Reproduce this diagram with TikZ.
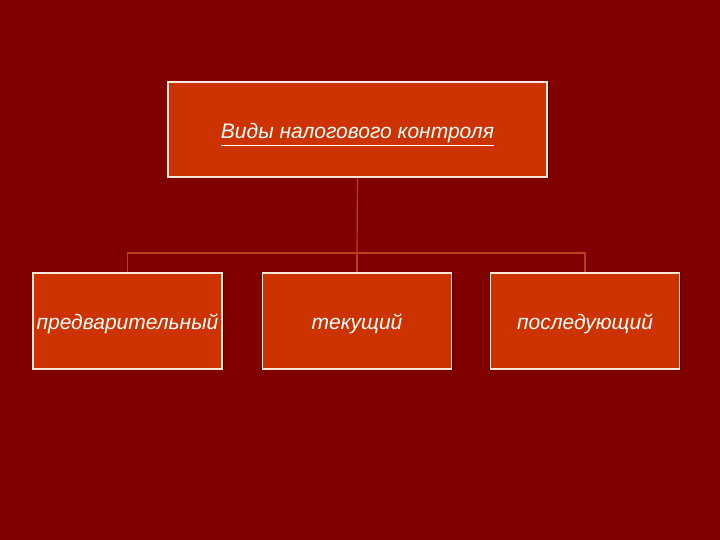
\documentclass[tikz,border=0pt]{standalone}
\usepackage{fontspec}
\setmainfont{Liberation Sans}
\usetikzlibrary{shadows}
\definecolor{bg}{HTML}{800000}
\definecolor{boxfill}{HTML}{CC3300}
\definecolor{boxline}{HTML}{FFE8D8}
\definecolor{conn}{HTML}{B8401F}
\tikzset{
  box/.style={draw=boxline, line width=1.6pt, fill=boxfill, inner sep=0pt,
    font=\itshape\fontsize{21}{24}\selectfont, text=white,
    drop shadow={shadow xshift=1.5pt, shadow yshift=-1.5pt, fill=black, opacity=0.35}},
  conn/.style={draw=conn, line width=1.2pt}
}
\newcommand{\lowtext}[2]{\raisebox{#1}[0pt][0pt]{#2}}
\begin{document}
\begin{tikzpicture}[x=1pt,y=1pt]
\fill[bg] (0,0) rectangle (720,540);
\useasboundingbox (0,0) rectangle (720,540);
\node[box, minimum width=379pt, minimum height=95pt] (top) at (357.5,410.5) {\lowtext{-9.5pt}{\underline{Виды налогового контроля}}};
\node[box, minimum width=189pt, minimum height=96pt] (a) at (127.5,219) {\lowtext{-8.5pt}{предварительный}};
\node[box, minimum width=189pt, minimum height=96pt] (b) at (357,219) {\lowtext{-8.5pt}{текущий}};
\node[box, minimum width=189pt, minimum height=96pt] (c) at (585,219) {\lowtext{-8.5pt}{последующий}};
\coordinate (j) at (357,287);
\draw[conn] (top.south) -- (j);
\draw[conn] (a.north) |- (j) -| (c.north);
\draw[conn] (j) -- (b.north);
\end{tikzpicture}
\end{document}
